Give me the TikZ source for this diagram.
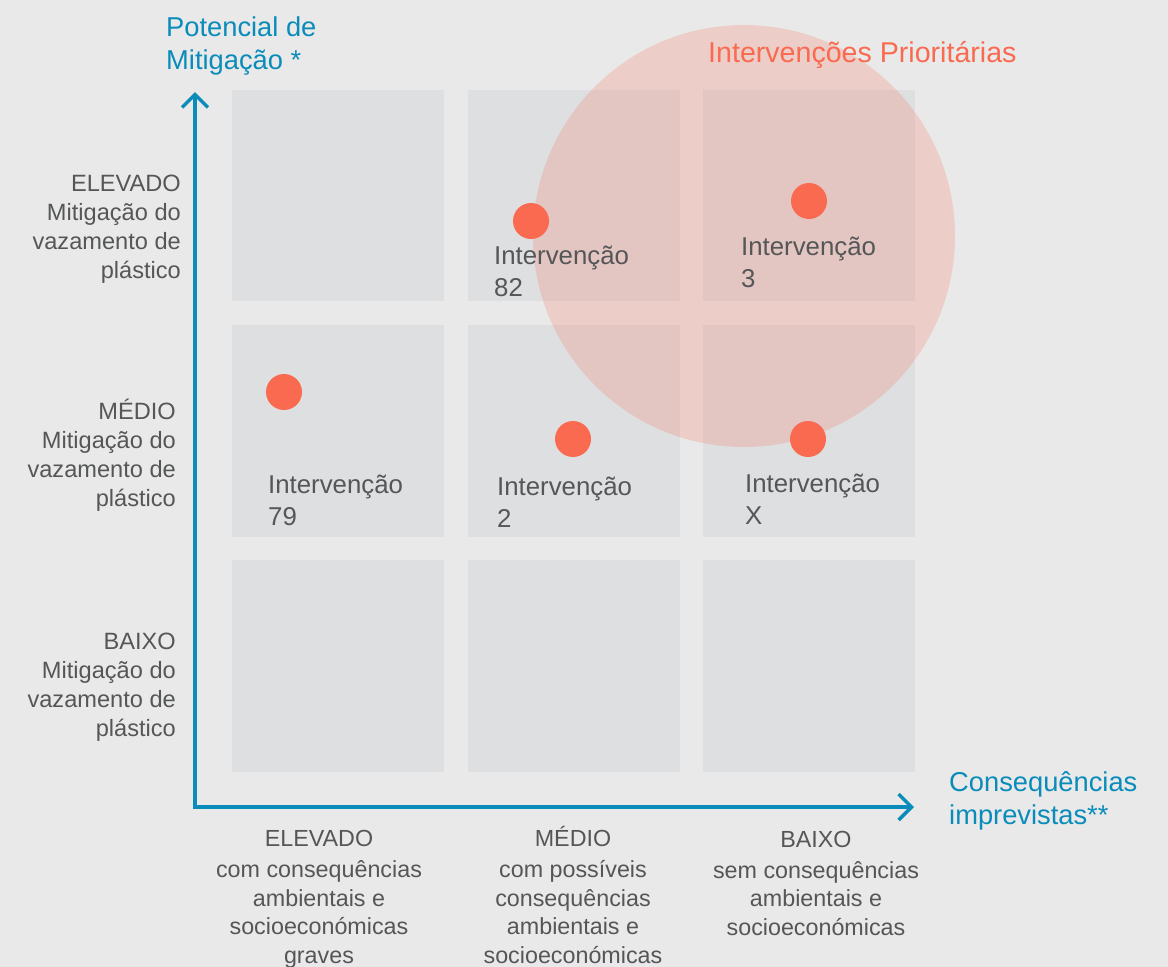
\documentclass[tikz,border=0pt]{standalone}
\usepackage{fontspec}
\setmainfont{Liberation Sans}
\usetikzlibrary{arrows.meta}
\definecolor{bg}{HTML}{E9E9E9}
\definecolor{cellc}{HTML}{DEDFE1}
\definecolor{axisblue}{HTML}{0A8CBA}
\definecolor{dotc}{HTML}{F96A50}
\definecolor{labgray}{HTML}{555658}
\tikzset{
  cell/.style={fill=cellc, draw=none},
  dot/.style={circle, fill=dotc, minimum size=36pt, inner sep=0pt},
  ylab/.style={anchor=base east, align=right, inner sep=0pt, text=labgray, font=\fontsize{23.6}{28.7}\selectfont},
  xlab/.style={anchor=base, align=center, inner sep=0pt, text=labgray, font=\fontsize{23.3}{28.5}\selectfont},
  ilab/.style={anchor=base west, align=left, inner sep=0pt, text=labgray, font=\fontsize{25.8}{32}\selectfont},
  axlab/.style={anchor=base west, align=left, inner sep=0pt, text=axisblue, font=\fontsize{27.3}{33}\selectfont},
  axis/.style={draw=axisblue, line width=4pt, {Straight Barb[length=13pt,width=26pt,line width=3.5pt]}-{Straight Barb[length=13pt,width=26pt,line width=3.5pt]}},
}
\begin{document}
\begin{tikzpicture}[x=1pt,y=-1pt]
\fill[bg] (0,0) rectangle (1168,967);
\useasboundingbox (0,0) rectangle (1168,967);
% cells
\foreach \cx/\cxx in {232/444,468/680,703/915}{
  \foreach \cy/\cyy in {90/301,325/537,560/772}{
    \fill[cell] (\cx,\cy) rectangle (\cxx,\cyy);
  }
}
% priority circle
\node[circle, fill=dotc, fill opacity=0.22, minimum size=422pt, inner sep=0pt] (prio) at (744,236) {};
% axes
\coordinate (ytop) at (195,92);
\coordinate (orig) at (195,807);
\coordinate (xend) at (914,807);
\draw[axis] (ytop) -- (orig) -- (xend);
% dots
\node[dot] (d82) at (531,221) {};
\node[dot] (d3) at (809,201) {};
\node[dot] (d79) at (284,392) {};
\node[dot] (d2) at (573,439) {};
\node[dot] (dX) at (808,439) {};
% intervention labels (anchor = baseline of last line)
\node[ilab] (l82) at (494,296) {Intervenção\\82};
\node[ilab] (l3) at (741,287) {Intervenção\\3};
\node[ilab] (l79) at (268,525) {Intervenção\\79};
\node[ilab] (l2) at (497,527) {Intervenção\\2};
\node[ilab] (lX) at (745,524) {Intervenção\\X};
% axis titles
\node[axlab] (ytitle) at (166,69) {Potencial de\\Mitigação *};
\node[axlab] (xtitle) at (949,824) {Consequências\\imprevistas**};
\node[anchor=base west, inner sep=0pt, text=dotc, font=\fontsize{28.6}{33}\selectfont] (ptitle) at (708,62) {Intervenções Prioritárias};
% y labels
\node[ylab] (yel) at (181,278) {ELEVADO\\Mitigação do\\vazamento de\\plástico};
\node[ylab] (yme) at (176,506) {MÉDIO\\Mitigação do\\vazamento de\\plástico};
\node[ylab] (yba) at (176,736) {BAIXO\\Mitigação do\\vazamento de\\plástico};
% x labels
\node[xlab] (xel) at (319,963) {ELEVADO\\[2.5pt]com consequências\\ambientais e\\socioeconómicas\\graves};
\node[xlab] (xme) at (573,963) {MÉDIO\\[2.5pt]com possíveis\\consequências\\ambientais e\\socioeconómicas};
\node[xlab] (xba) at (816,935) {BAIXO\\[2.5pt]sem consequências\\ambientais e\\socioeconómicas};
\end{tikzpicture}
\end{document}
